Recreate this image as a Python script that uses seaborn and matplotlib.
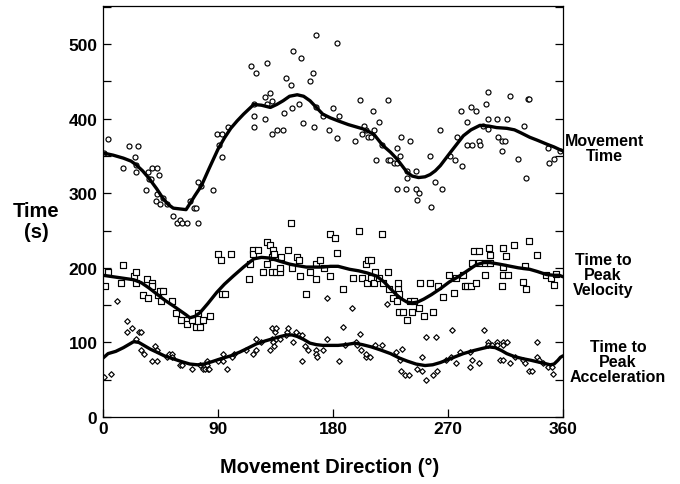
import matplotlib
matplotlib.use("Agg")
import matplotlib.pyplot as plt
from matplotlib.ticker import MultipleLocator
import seaborn as sns
import pandas as pd

# ---- Movement time (circles) ----
mt_dir = [1, 4, 16, 20, 25, 26, 26, 27, 34, 35.5, 36, 37.6, 38, 41.5, 42, 42.5, 44, 44.6, 47, 50,
          55, 58, 60, 61.6, 66, 68, 71, 73, 74.6, 74.6, 77, 86, 89.5, 91, 93, 93.4, 98, 116, 118, 118,
          118.5, 119.5, 127, 127, 128, 128, 131, 132, 132.5, 136.5, 141, 141.7, 143, 147, 148, 148.6,
          153, 154.7, 156.8, 162, 164, 165, 166.5, 166.5, 172.4, 177, 180, 183, 183, 184.5, 197, 201,
          203, 204.5, 206, 207.6, 210, 211.6, 212, 213.5, 216, 218.6, 223, 223, 224.6, 228, 229.8, 230,
          230, 232.5, 233, 237, 237.7, 238, 240, 245, 245, 246, 247, 256, 257, 260, 264, 265, 271.6,
          275.5, 277, 280, 281, 284.7, 284.7, 288, 289, 292, 294, 295, 297, 299.5, 301.6, 301.6, 301.6,
          308, 309.4, 312, 312.5, 314.6, 316.4, 318.8, 324.5, 329.7, 331, 332.4, 333.4, 348, 349, 353,
          357.7]
mt_val = [354, 373, 334, 363, 349, 338, 329, 363, 304, 329, 319, 319, 334, 289, 299, 334, 324, 285, 293, 285,
          269, 260, 264, 260, 260, 289, 280, 280, 260, 315, 310, 304, 379, 364, 349, 379, 389, 470, 419, 403,
          389, 461, 400, 429, 419, 475, 435, 379, 424, 385, 385, 408, 455, 445, 414, 491,
          419, 481, 394, 450, 461, 389, 512, 415, 404, 385, 414, 374, 501, 404, 370, 425,
          379, 390, 385, 375, 375, 410, 385, 345, 395, 365, 425, 345, 345, 340, 340, 360,
          305, 350, 375, 305, 330, 320, 370, 330, 305, 291, 300, 350, 281, 315, 385, 305, 350,
          345, 375, 410, 336, 395, 365, 415, 365, 410, 370, 365, 390, 420, 436, 400, 386,
          400, 375, 370, 356, 370, 400, 431, 346, 390, 321, 426, 426, 361, 341, 346,
          357]
mt_curve_dir = [0, 8, 16, 22, 26, 31, 36, 42, 47, 51, 55, 60, 65, 68, 72, 77, 83, 90, 95, 100, 105, 110,
                118, 124, 131, 136, 141, 146, 152, 157, 162, 167, 172, 178, 184, 192, 204, 212, 219, 225,
                230, 234, 238, 242, 247, 252, 256, 260, 264, 268, 272, 277, 282, 288, 295, 302, 308, 316,
                322, 327, 334, 340, 347, 353, 358, 360]
mt_curve_val = [354, 351, 347, 343, 338, 330, 320, 306, 293, 285, 280, 279, 278, 286, 297, 310, 333, 359, 374,
                387, 397, 406, 419, 418, 415, 419, 424, 430, 432, 430, 424, 415, 406, 401, 397, 392, 386,
                379, 364, 355, 346, 337, 328, 323, 321, 322, 325, 330, 337, 346, 355, 366, 377, 385, 391,
                390, 388, 387, 385, 381, 375, 371, 366, 362, 358, 357]

# ---- Time to peak velocity (squares) ----
pv_dir = [1.6, 3.7, 14, 16, 24, 25.6, 26, 31, 34.7, 35.5, 38, 38, 43, 44.6, 45.4, 46.7, 53.8, 57, 61, 65.5,
          65.5, 69.4, 73, 74.6, 76, 78, 83.7, 89.8, 92, 93, 95.5, 100, 114.5, 115, 117, 117, 121, 125,
          128.6, 128.6, 131, 132, 132, 133, 134, 135.4, 138.5, 138.5, 139, 144.5, 147, 147.6, 152, 153.6,
          154, 159, 162, 167, 167, 169.5, 173, 178, 178, 181.6, 183, 188, 195.4, 200.6, 202.4, 206, 206.4,
          207.6, 209.5, 209.5, 212, 213, 216, 218.6, 219, 223, 224, 227, 230, 231, 231, 232, 232, 235, 238,
          240, 241.6, 243, 247, 248, 251, 256, 258.6, 262, 266, 271, 275, 276, 282, 283, 285, 288, 289, 290,
          292, 294, 294, 299, 299, 302, 303, 303, 312.5, 313, 313, 313, 315.4, 317, 321.6, 328.5, 330.5,
          331, 333.4, 339.4, 347, 350.4, 353, 354.5]
pv_val = [175, 194, 180, 204, 189, 179, 194, 164, 185, 160, 179, 175, 164, 169, 155, 169, 155, 139, 130, 130,
          125, 130, 120, 139, 120, 130, 135, 219, 210, 165, 165, 219, 185, 205, 224, 219, 224, 195,
          235, 205, 230, 214, 195, 224, 219, 195, 195, 200, 215, 224, 260, 200, 215, 210,
          189, 165, 195, 185, 205, 210, 200, 245, 189, 240, 220, 171, 186, 250, 186, 205, 180,
          211, 211, 186, 180, 195, 186, 245, 180, 195, 171, 160, 155, 171, 180, 165, 141, 141, 130,
          155, 141, 155, 146, 180, 136, 180, 141, 176, 161, 190, 166, 186, 190, 176, 176, 176, 206, 222,
          180, 222, 206, 206, 191, 226, 217, 206, 176, 226, 201, 191, 216, 191, 231, 181, 202,
          172, 236, 217, 191, 186, 177, 192]
pv_curve_dir = [0, 8, 16, 24, 30, 36, 42, 48, 55, 60, 65, 68, 72, 76, 82, 89, 95, 102, 110, 118, 124, 131,
                138, 146, 152, 159, 166, 172, 178, 184, 193, 200, 207, 214, 220, 225, 229, 233, 238, 242,
                246, 251, 257, 264, 271, 279, 286, 292, 298, 303, 310, 316, 325, 334, 340, 347, 353, 357,
                360]
pv_curve_val = [190, 188, 186, 184, 180, 173, 165, 157, 149, 143, 137, 133, 135, 140, 152, 167, 178, 189, 201,
                212, 214, 213, 209, 205, 203, 201, 201, 201, 202, 202, 198, 196, 193, 189, 181, 172, 165,
                159, 154, 153, 154, 158, 164, 172, 181, 189, 197, 204, 207, 207, 205, 203, 200, 198, 195,
                191, 190, 190, 188]

# ---- Time to peak acceleration (diamonds) ----
pa_dir = [0.8, 6, 11, 19, 19, 23, 26, 28.4, 30, 29.5, 32, 38, 40.7, 42, 42, 50.4, 51.7, 53.8, 53.8, 60, 61.6,
          70, 76, 78, 80, 81, 81.6, 82, 83, 90, 94, 94, 96.8, 101, 102.6, 112, 117, 119.5, 119.5, 123.7,
          130.7, 132, 132, 133, 134, 134.6, 135, 135.4, 138.5, 143, 143.8, 145, 149, 151, 153, 155.7, 156,
          158, 160.6, 167, 167, 167.5, 172, 175, 175, 185, 188, 189, 194.6, 198, 198.6, 201, 202, 205.5, 206,
          209, 213, 218.6, 222, 229, 232.5, 233, 234, 236, 239.5, 245.5, 249.4, 249.4, 252.6, 253, 258.6,
          260.6, 261.7, 268.6, 272, 273, 276, 279, 287, 287, 289, 294, 298.5, 301.6, 301.6, 304.7, 308, 308,
          311, 313, 313, 313, 316, 318.6, 322.5, 329, 330, 333.7, 335.6, 339.5, 339.5, 341.3, 344.7, 348.6,
          351.7, 352.4]
pa_val = [53, 57, 155, 129, 114, 119, 105, 114, 114, 90, 85, 75, 95, 75, 90, 80, 85, 85, 80, 70, 70,
          65, 70, 65, 65, 75, 70, 65, 65, 75, 75, 85, 65, 80, 85, 90, 85, 90, 105, 100,
          90, 105, 119, 100, 95, 114, 105, 119, 105, 110, 114, 119, 100, 114, 110, 110, 75,
          95, 90, 90, 85, 80, 90, 105, 160, 75, 120, 96, 146, 100, 96, 111, 90, 81, 85,
          81, 96, 96, 151, 87, 76, 62, 91, 56, 56, 65, 81, 62, 107, 50, 56,
          107, 62, 76, 81, 116, 72, 87, 87, 67, 76, 72, 116, 100, 96, 96, 100, 96,
          77, 77, 100, 96, 100, 72, 81, 76, 72, 62, 62, 101, 81, 76, 72, 67,
          67, 57]
pa_curve_dir = [0, 4, 10, 16, 20, 24, 28, 32, 37, 42, 48, 55, 62, 68, 74, 79, 85, 92, 100, 107, 113, 120,
                127, 133, 139, 144, 148, 152, 157, 162, 167, 172, 178, 184, 190, 197, 203, 210, 217, 225,
                232, 238, 245, 252, 258, 264, 270, 276, 282, 290, 297, 302, 307, 312, 316, 322, 329, 335,
                340, 345, 350, 353, 356, 358, 360]
pa_curve_val = [79, 85, 88, 93, 97, 101, 100, 96, 91, 87, 82, 78, 74, 71, 70, 71, 74, 78, 82, 87, 92, 98,
                102, 105, 108, 110, 110, 108, 104, 99, 97, 96, 96, 96, 97, 99, 97, 94, 90, 85,
                79, 75, 71, 69, 70, 73, 77, 81, 85, 89, 92, 94, 93, 89, 85, 81, 78, 76,
                74, 72, 70, 71, 76, 80, 82]

x_ticks = [0, 90, 180, 270, 360]
y_ticks = [0, 100, 200, 300, 400, 500]

sns.set_style("white")
plt.rcParams["font.family"] = ["Liberation Sans", "DejaVu Sans"]
plt.rcParams["font.weight"] = "bold"
plt.rcParams["text.color"] = "black"
plt.rcParams["axes.labelcolor"] = "black"
plt.rcParams["xtick.color"] = "black"
plt.rcParams["ytick.color"] = "black"

fig = plt.figure(figsize=(6.8, 4.85), dpi=100)
ax = fig.add_axes([103 / 680, 67 / 485, 460 / 680, 411 / 485])

series = [
    (mt_dir, mt_val, mt_curve_dir, mt_curve_val, "o", 13),
    (pv_dir, pv_val, pv_curve_dir, pv_curve_val, "s", 14),
    (pa_dir, pa_val, pa_curve_dir, pa_curve_val, "D", 8),
]
for d, v, cd, cv, mk, sz in series:
    pts = pd.DataFrame({"direction": d, "time": v})
    fit = pd.DataFrame({"direction": cd, "time": cv})
    sns.scatterplot(data=pts, x="direction", y="time", marker=mk, s=sz,
                    facecolor="white", edgecolor="black", linewidth=0.85,
                    ax=ax, zorder=2, legend=False)
    sns.lineplot(data=fit, x="direction", y="time", color="black", linewidth=2.4,
                 estimator=None, sort=False, ax=ax, zorder=3)

ax.set_xlim(0, 360)
ax.set_ylim(0, 551)
ax.set_xticks(x_ticks)
ax.set_yticks(y_ticks)
ax.yaxis.set_minor_locator(MultipleLocator(50))
ax.set_xlabel("")
ax.set_ylabel("")
for sp in ax.spines.values():
    sp.set_visible(True)
    sp.set_color("black")
    sp.set_linewidth(0.9)
ax.tick_params(axis="both", which="both", direction="in", colors="black",
               width=0.9, length=6)
ax.tick_params(axis="y", which="both", right=True, left=True)
ax.tick_params(axis="x", top=False, bottom=True)
ax.tick_params(axis="y", labelsize=12.5, pad=4)
ax.tick_params(axis="x", labelsize=12.5, pad=3)
for lab in ax.get_xticklabels() + ax.get_yticklabels():
    lab.set_fontweight("bold")
    lab.set_color("black")

fig.text(36 / 680, 1 - 222 / 485, "Time\n(s)", ha="center", va="center",
         fontsize=14.5, fontweight="bold", linespacing=1.1, color="black")
fig.text(330 / 680, 1 - 468 / 485, "Movement Direction (°)", ha="center", va="center",
         fontsize=14.5, fontweight="bold", color="black")
fig.text(604 / 680, 1 - 149 / 485, "Movement\nTime", ha="center", va="center",
         fontsize=11.5, fontweight="bold", linespacing=1.0, color="black")
fig.text(603 / 680, 1 - 276 / 485, "Time to\nPeak\nVelocity", ha="center", va="center",
         fontsize=11.5, fontweight="bold", linespacing=1.0, color="black")
fig.text(618 / 680, 1 - 363 / 485, "Time to\nPeak\nAcceleration", ha="center", va="center",
         fontsize=11.5, fontweight="bold", linespacing=1.0, color="black")

fig.savefig("out.png", dpi=100, facecolor="white")
